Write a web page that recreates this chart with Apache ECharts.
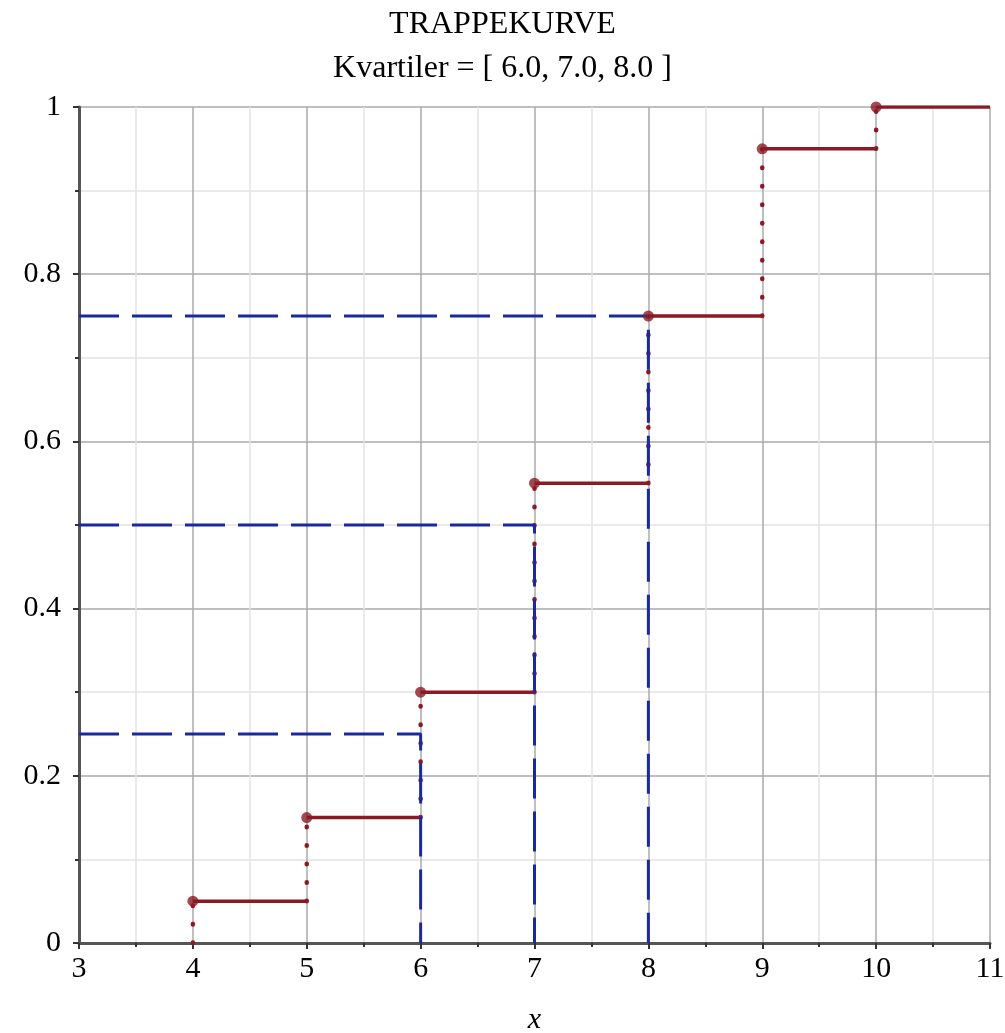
<!DOCTYPE html>
<html>
<head>
<meta charset="utf-8">
<script src="https://cdn.jsdelivr.net/npm/echarts@6/dist/echarts.min.js"></script>
<style>
html,body{margin:0;padding:0;background:#fff;}
#chart{width:1005px;height:1033px;}
</style>
</head>
<body>
<div id="chart"></div>
<script>
// ---- data ----
var titleLines = ['TRAPPEKURVE', 'Kvartiler = [ 6.0, 7.0, 8.0 ]'];
var xAxisName = 'x';
var stepX = [4, 5, 6, 7, 8, 9, 10];
var stepY = [0.05, 0.15, 0.30, 0.55, 0.75, 0.95, 1.0];
var xEnd = 11;
var xStart = 3;
var quartileP = [0.25, 0.5, 0.75];
var quartileX = [6.0, 7.0, 8.0];

// ---- build series data ----
var horiz = [], vert = [], blue = [], marks = [];
for (var i = 0; i < stepX.length; i++) {
  var nx = (i + 1 < stepX.length) ? stepX[i + 1] : xEnd;
  horiz.push([stepX[i], stepY[i]], [nx, stepY[i]], null);
  var prev = i > 0 ? stepY[i - 1] : 0;
  vert.push([stepX[i], prev], [stepX[i], stepY[i]], null);
  marks.push([stepX[i], stepY[i]]);
}
for (var k = 0; k < quartileP.length; k++) {
  blue.push([xStart, quartileP[k]], [quartileX[k], quartileP[k]], [quartileX[k], 0], null);
}

var RED = '#8a1a24';
var BLUE = '#1a2a9c';
var FONT = 'Liberation Serif';

var chart = echarts.init(document.getElementById('chart'));
chart.setOption({
  animation: false,
  backgroundColor: '#fff',
  title: [
    {text: titleLines[0], left: 'center', top: 4, textStyle: {fontFamily: FONT, fontSize: 32, fontWeight: 'normal', color: '#000'}},
    {text: titleLines[1], left: 'center', top: 48, textStyle: {fontFamily: FONT, fontSize: 32, fontWeight: 'normal', color: '#000'}}
  ],
  grid: {left: 79, right: 15, top: 107, bottom: 90, containLabel: false, outerBoundsMode: 'none'},
  xAxis: {
    type: 'value', min: 3, max: 11, interval: 1,
    name: xAxisName, nameLocation: 'middle', nameGap: 62,
    nameTextStyle: {fontFamily: FONT, fontSize: 30, fontStyle: 'italic', color: '#000'},
    axisLine: {show: true, onZero: false, lineStyle: {color: '#555', width: 3}},
    axisTick: {show: true, length: 6, lineStyle: {color: '#333', width: 2}},
    minorTick: {show: true, splitNumber: 2, length: 4, lineStyle: {color: '#333', width: 2}},
    axisLabel: {fontFamily: FONT, fontSize: 30, color: '#000', margin: 11},
    splitLine: {show: true, lineStyle: {color: '#aaaaaa', width: 1.5}},
    minorSplitLine: {show: true, lineStyle: {color: '#e4e4e4', width: 1.5}}
  },
  yAxis: {
    type: 'value', min: 0, max: 1, interval: 0.2,
    axisLine: {show: true, onZero: false, lineStyle: {color: '#555', width: 3}},
    axisTick: {show: true, length: 6, lineStyle: {color: '#333', width: 2}},
    minorTick: {show: true, splitNumber: 2, length: 4, lineStyle: {color: '#333', width: 2}},
    axisLabel: {fontFamily: FONT, fontSize: 30, color: '#000', margin: 18,
      formatter: function (v) { return (v === 0 || v === 1) ? String(v) : v.toFixed(1); }},
    splitLine: {show: true, lineStyle: {color: '#aaaaaa', width: 1.5}},
    minorSplitLine: {show: true, lineStyle: {color: '#e4e4e4', width: 1.5}}
  },
  series: [
    {type: 'line', data: horiz, symbol: 'none', connectNulls: false, z: 2,
     lineStyle: {color: RED, width: 3.5}},
    {type: 'line', data: vert, symbol: 'none', connectNulls: false, z: 2,
     lineStyle: {color: RED, width: 4.5, type: [0.5, 18], cap: 'round'}},
    {type: 'line', data: blue, symbol: 'none', connectNulls: false, z: 3,
     lineStyle: {color: BLUE, width: 3, type: [40, 13]}},
    {type: 'scatter', data: marks, symbol: 'circle', symbolSize: 11, z: 4,
     itemStyle: {color: RED}}
  ]
});
</script>
</body>
</html>
